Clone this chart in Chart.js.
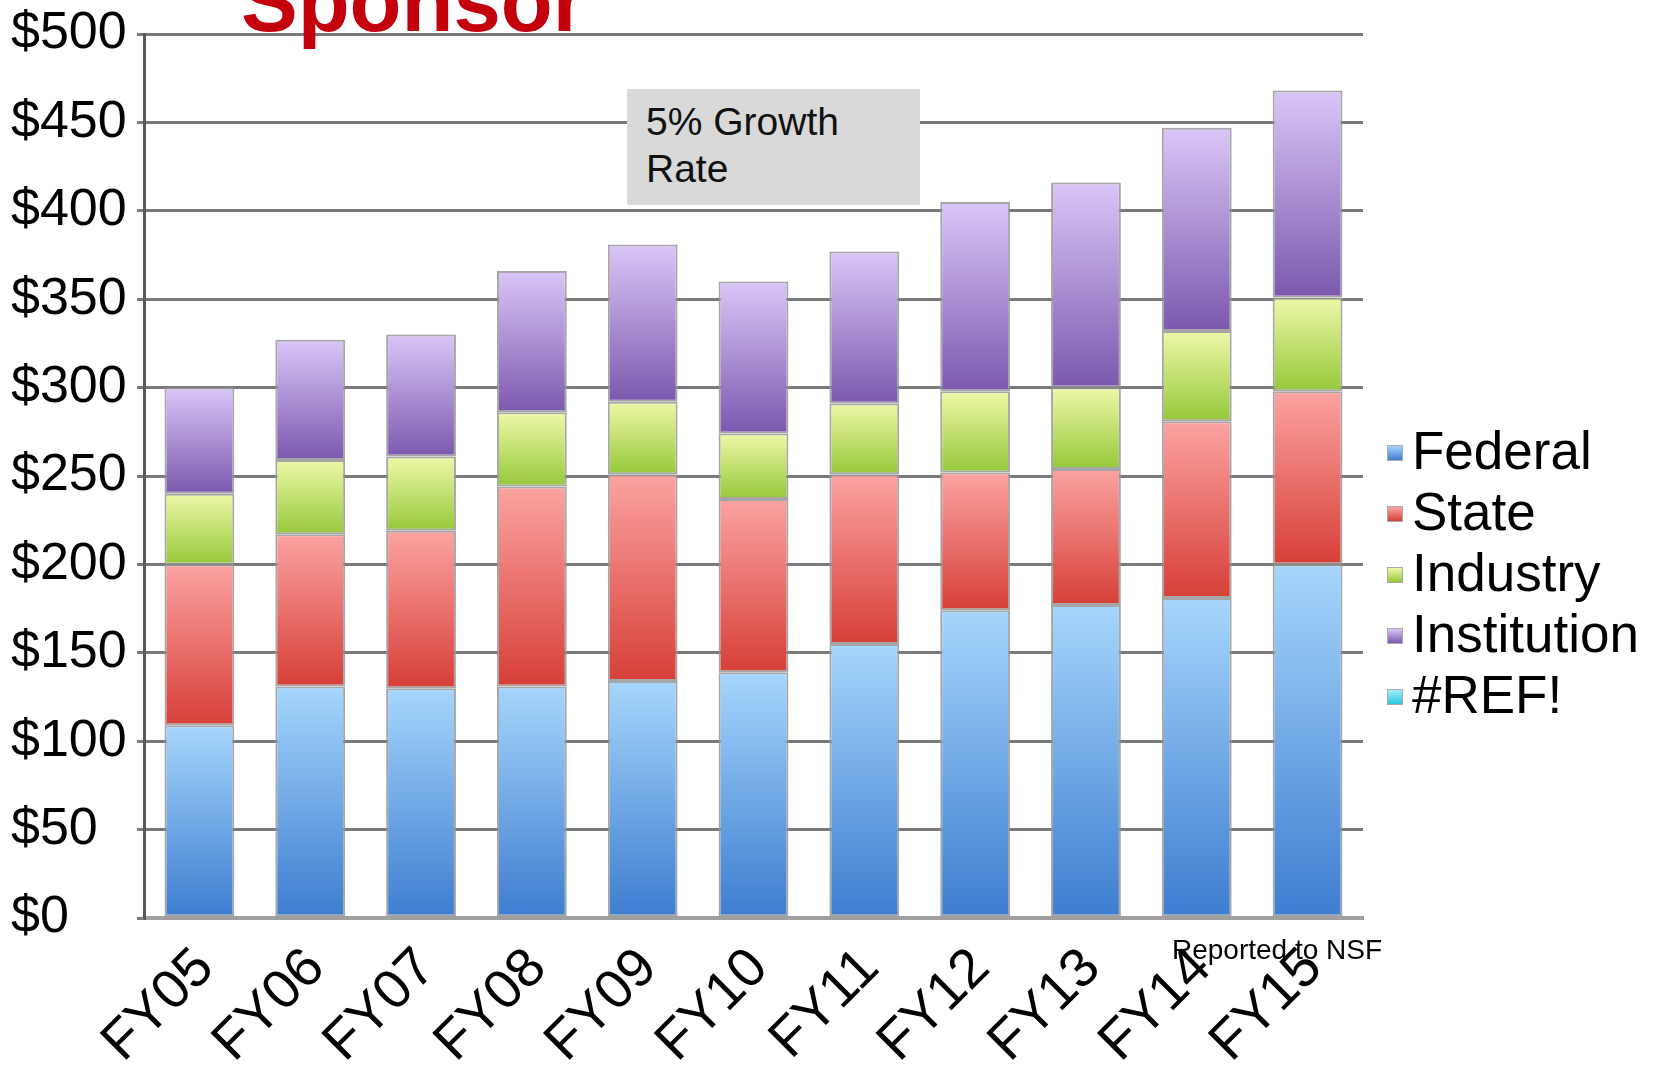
<!DOCTYPE html>
<html>
<head>
<meta charset="utf-8">
<script src="https://cdn.jsdelivr.net/npm/chart.js@4"></script>
<style>
  html, body { margin: 0; padding: 0; background: #fff; overflow: hidden; }
  #wrap { position: relative; width: 1656px; height: 1068px; font-family: "Liberation Sans", Arial, sans-serif; }
  #chart { position: absolute; left: 0; top: 0; }
  #title { position: absolute; left: 241px; top: -41px; font: bold 85px/85px "Liberation Sans", Arial, sans-serif; color: #c4000d; white-space: nowrap; }
  #note { position: absolute; left: 627px; top: 89px; width: 274px; height: 107px; padding: 9px 0 0 19px; background: #d9d9d9; font-size: 39px; line-height: 47px; color: #111; }
  #legend { position: absolute; left: 1387px; top: 420px; }
  .item { height: 61px; line-height: 61px; font-size: 53px; color: #000; white-space: nowrap; }
  .sw { display: inline-block; width: 16px; height: 16px; margin-right: 9px; vertical-align: 8px; border: 1px solid #aaa; box-sizing: border-box; }
  #src { position: absolute; left: 1172px; top: 934px; font-size: 28px; color: #000; white-space: nowrap; }
</style>
</head>
<body>
<div id="wrap">
  <canvas id="chart" width="1656" height="1068"></canvas>
  <div id="title">Sponsor</div>
  <div id="note">5% Growth<br>Rate</div>
  <div id="legend"></div>
  <div id="src">Reported to NSF</div>
</div>
<script>
const categories = ['FY05','FY06','FY07','FY08','FY09','FY10','FY11','FY12','FY13','FY14','FY15'];
const federal     = [109, 131, 130, 131, 134, 139, 155, 174, 177, 181, 200];
const state       = [ 91,  86,  89, 113, 117,  98,  96,  78,  77, 100,  98];
const industry    = [ 40,  42,  42,  42,  41,  37,  40,  46,  46,  51,  53];
const institution = [ 60,  68,  69,  80,  89,  86,  86, 107, 116, 115, 117];
const refErr      = [];
const yTicks = [0, 50, 100, 150, 200, 250, 300, 350, 400, 450, 500];

const series = [federal, state, industry, institution, refErr];
const names = ['Federal', 'State', 'Industry', 'Institution', '#REF!'];
const shades = [
  ['#a6d6fc', '#3d7dd0'],
  ['#fba3a1', '#d73f38'],
  ['#eef8a8', '#96c83a'],
  ['#dac6f8', '#7b58ae'],
  ['#9feef8', '#2cc6dc']
];

// vertical gradient per stacked segment, light on top
const segFill = (k) => (ctx) => {
  const chart = ctx.chart;
  if (!chart.chartArea || ctx.type !== 'data') return shades[k][1];
  const i = ctx.dataIndex;
  let base = 0;
  for (let j = 0; j < k; j++) base += series[j][i] || 0;
  const y = chart.scales.y;
  const top = y.getPixelForValue(base + (series[k][i] || 0));
  const bot = y.getPixelForValue(base);
  if (!(bot > top)) return shades[k][1];
  const g = chart.ctx.createLinearGradient(0, top, 0, bot);
  g.addColorStop(0, shades[k][0]);
  g.addColorStop(1, shades[k][1]);
  return g;
};

const datasets = series.map((d, k) => ({
  label: names[k],
  data: d,
  backgroundColor: segFill(k),
  borderColor: 'rgba(150,150,150,0.85)',
  borderWidth: 2,
  borderSkipped: false,
  categoryPercentage: 1,
  barPercentage: 0.63
}));

new Chart(document.getElementById('chart'), {
  type: 'bar',
  data: { labels: categories, datasets },
  options: {
    responsive: false,
    animation: false,
    layout: { padding: { top: 34, right: 293, left: 11, bottom: 0 } },
    plugins: { legend: { display: false }, tooltip: { enabled: false } },
    scales: {
      x: {
        stacked: true,
        grid: { display: false, drawTicks: false },
        border: { color: '#a0a0a0', width: 4 },
        ticks: {
          autoSkip: false, maxRotation: 45, minRotation: 45,
          padding: 18, labelOffset: 6,
          color: '#000',
          font: { family: 'Liberation Sans', size: 55 }
        },
        afterFit: (s) => { s.height = 150; }
      },
      y: {
        stacked: true,
        min: 0, max: 500,
        afterBuildTicks: (s) => { s.ticks = yTicks.map(v => ({ value: v })); },
        grid: { color: '#7a7a7a', lineWidth: 3, tickLength: 7 },
        border: { color: '#5a5a5a', width: 3 },
        ticks: {
          padding: 7,
          crossAlign: 'far',
          color: '#000',
          font: { family: 'Liberation Sans', size: 52, lineHeight: 1 },
          callback: (v) => '$' + v
        },
        afterFit: (s) => { s.width = 133; }
      }
    }
  }
});

const legend = document.getElementById('legend');
names.forEach((n, k) => {
  const row = document.createElement('div');
  row.className = 'item';
  row.innerHTML = `<span class="sw" style="background:linear-gradient(${shades[k][0]}, ${shades[k][1]})"></span>${n}`;
  legend.appendChild(row);
});
</script>
</body>
</html>
